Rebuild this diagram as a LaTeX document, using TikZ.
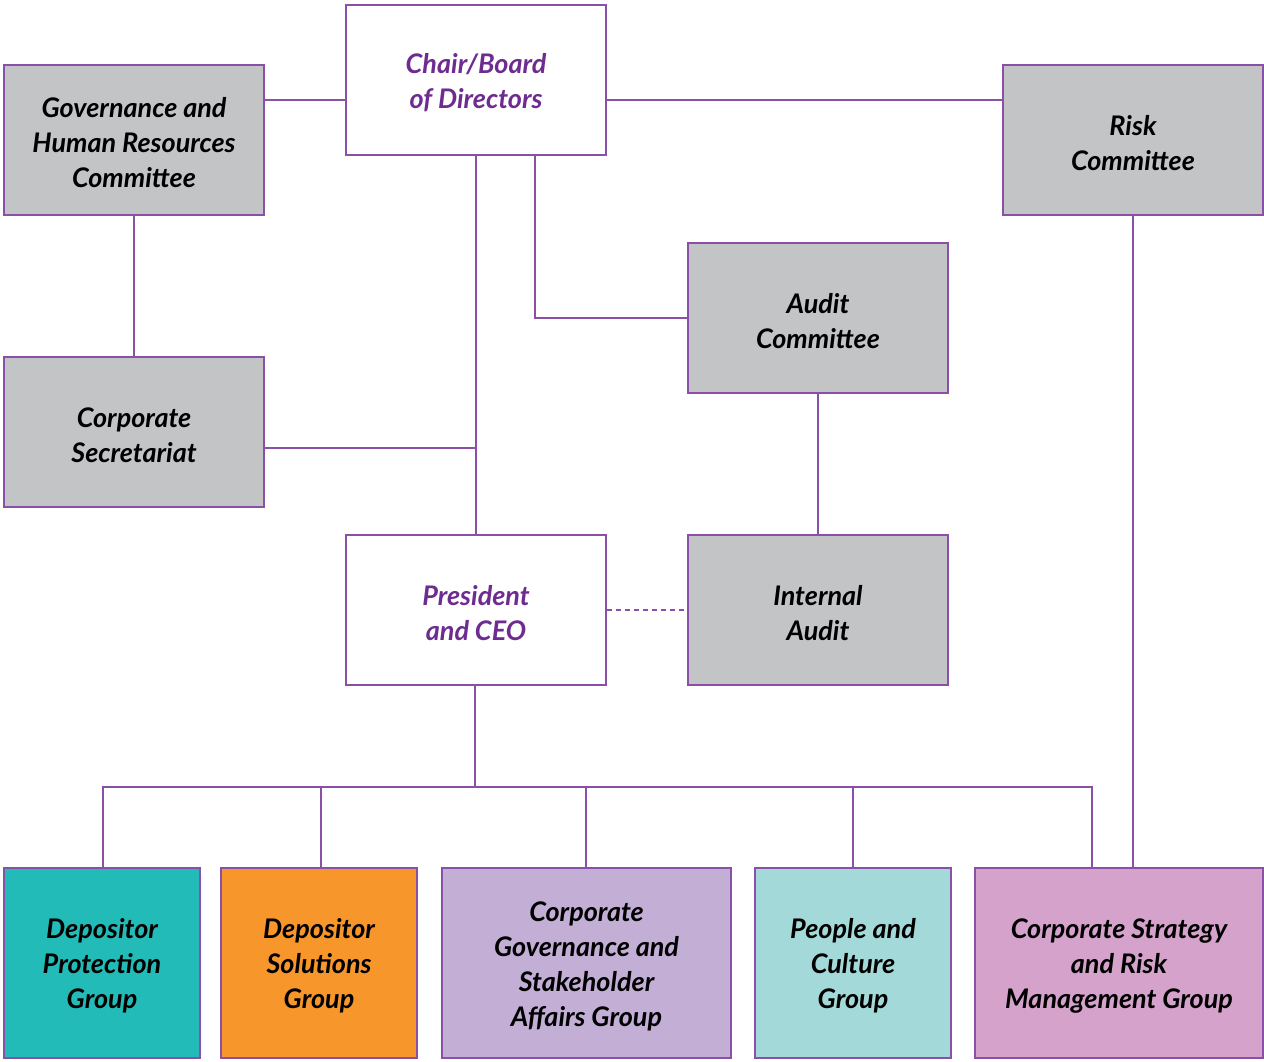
\documentclass[tikz,border=0pt]{standalone}
\usepackage{fontspec}
\setmainfont{Lato}
\definecolor{linepurple}{HTML}{8A4FA6}
\definecolor{titlepurple}{HTML}{6E2C91}
\definecolor{boxgray}{HTML}{C3C4C6}
\definecolor{teal}{HTML}{22BBB7}
\definecolor{orange}{HTML}{F7962B}
\definecolor{lavender}{HTML}{C3AED6}
\definecolor{lightteal}{HTML}{A3DAD9}
\definecolor{pink}{HTML}{D4A2CB}
\begin{document}
\begin{tikzpicture}[x=1pt,y=-1pt,
  box/.style={draw=linepurple, line width=1.4pt, rectangle, inner sep=0pt},
  ltext/.style={align=center, inner sep=0pt, yshift=-3pt,
    font=\fontsize{27}{35}\selectfont\bfseries\itshape},
  board/.style={box, fill=white, minimum width=260pt, minimum height=150pt,
    label={[ltext, text=titlepurple]center:{#1}}},
  committee/.style={box, fill=boxgray, minimum width=260pt, minimum height=150pt,
    label={[ltext, text=black]center:{#1}}},
  group/.style={box, minimum height=190pt,
    label={[ltext, text=black]center:{#1}}},
  link/.style={draw=linepurple, line width=1.4pt}]
\useasboundingbox (0,0) rectangle (1264,1062);

% governance bodies
\node[board={Chair/Board\\of Directors}] (chair) at (476,80) {};
\node[committee={Governance and\\Human Resources\\Committee}] (ghr) at (134,140) {};
\node[committee={Risk\\Committee}] (risk) at (1133,140) {};
\node[committee={Audit\\Committee}] (audit) at (818,318) {};
\node[committee={Corporate\\Secretariat}] (sec) at (134,432) {};
\node[board={President\\and CEO}] (ceo) at (476,610) {};
\node[committee={Internal\\Audit}] (ia) at (818,610) {};

% operating groups
\node[group={Depositor\\Protection\\Group}, fill=teal, minimum width=196pt] (dpg) at (102,963) {};
\node[group={Depositor\\Solutions\\Group}, fill=orange, minimum width=196pt] (dsg) at (319,963) {};
\node[group={Corporate\\Governance and\\Stakeholder\\Affairs Group}, fill=lavender, minimum width=289pt] (cgs) at (586.5,963) {};
\node[group={People and\\Culture\\Group}, fill=lightteal, minimum width=196pt] (pcg) at (853,963) {};
\node[group={Corporate Strategy\\and Risk\\Management Group}, fill=pink, minimum width=288pt] (csr) at (1119,963) {};

% reporting lines
\coordinate (bus) at (475,787);
\path[link] (chair.west |- 0,100) -- (ghr.east |- 0,100);
\path[link] (chair.east |- 0,100) -- (risk.west |- 0,100);
\path[link] (ghr.south) -- (sec.north);
\path[link] (chair.south) -- (ceo.north);
\path[link] (sec.east |- 0,448) -- (476,448);
\path[link] (chair.south -| 535,0) |- (audit.west);
\path[link] (audit.south) -- (ia.north);
\path[link, dashed, dash pattern=on 5pt off 4pt] (ceo.east) -- (ia.west);
\path[link] (ceo.south -| bus) -- (bus);
\path[link] (dpg.north -| 103,0) |- (bus -| 1092,0) -- (csr.north -| 1092,0);
\path[link] (dsg.north -| 321,0) -- (bus -| 321,0);
\path[link] (cgs.north -| 586,0) -- (bus -| 586,0);
\path[link] (pcg.north) -- (bus -| pcg.north);
\path[link] (risk.south) -- (csr.north -| risk.south);
\end{tikzpicture}
\end{document}
